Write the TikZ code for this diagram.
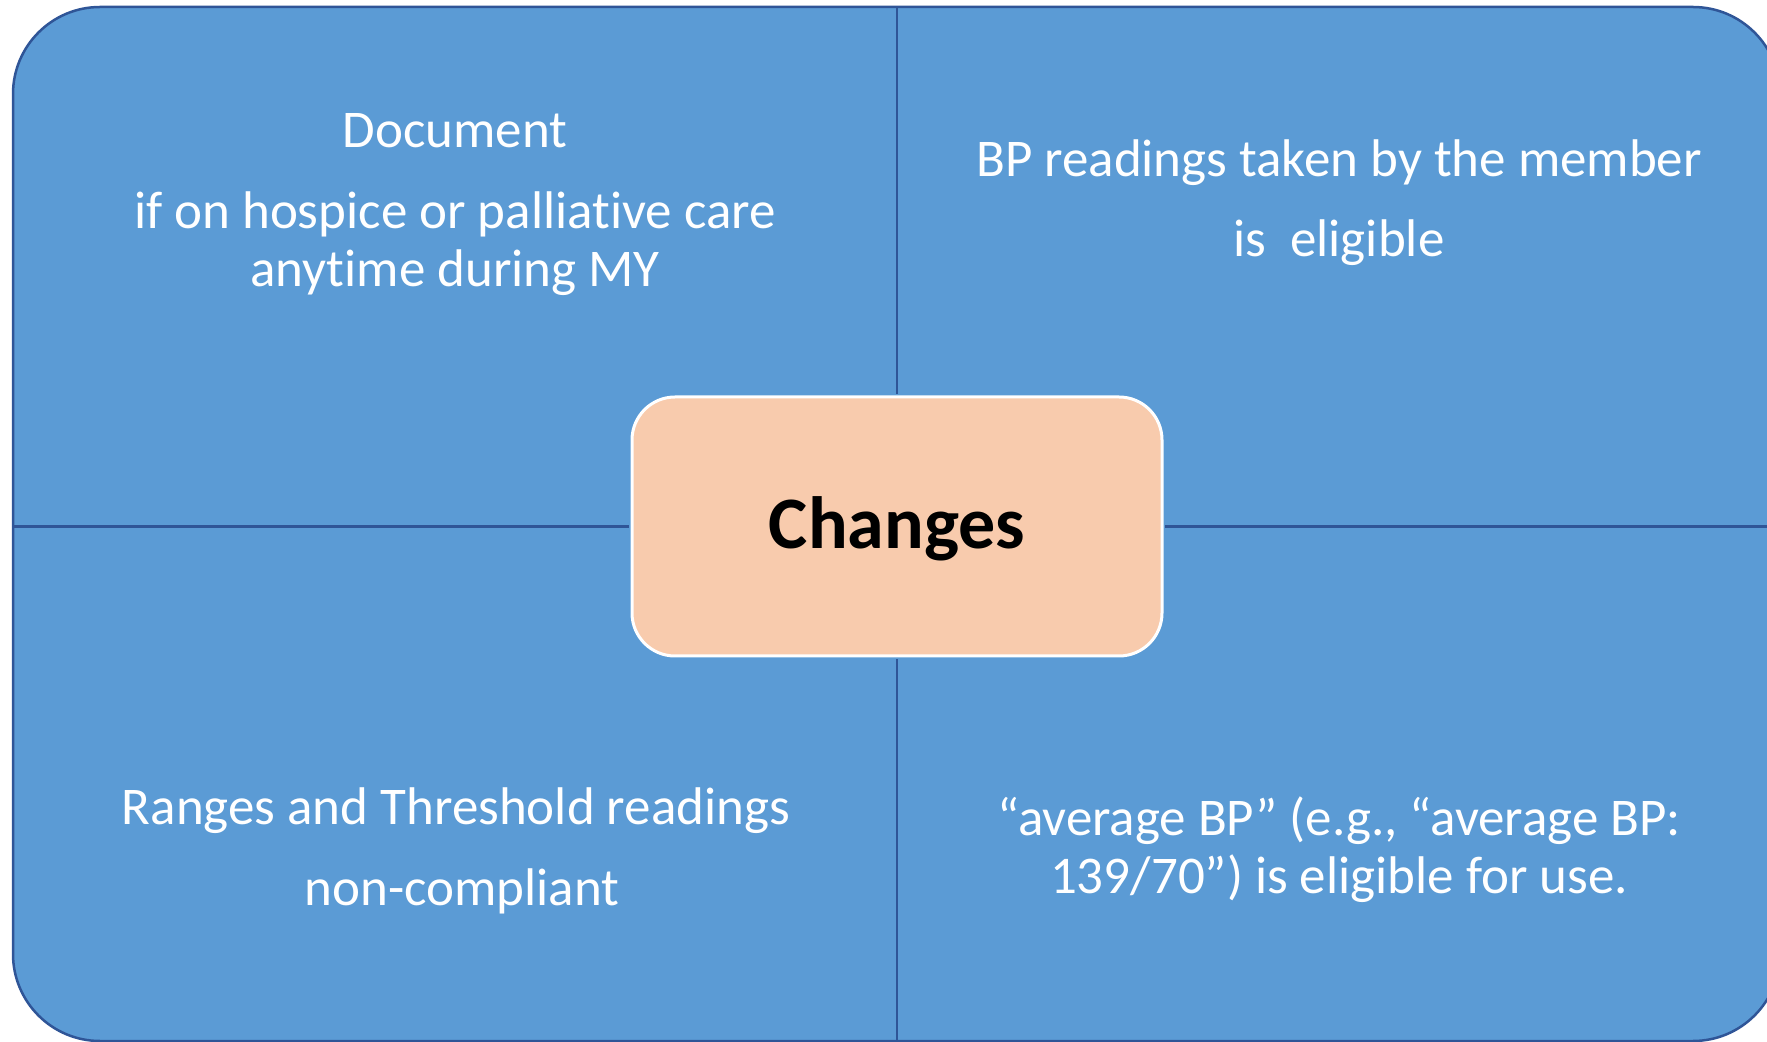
\documentclass[tikz,border=0pt]{standalone}
\usepackage{fontspec}
\setmainfont{Carlito}[Ligatures=NoCommon]
\usepackage{xcolor}
\usepackage{tikz}

\definecolor{quadblue}{HTML}{5B9BD5}
\definecolor{quadline}{HTML}{2F5597}
\definecolor{centrefill}{HTML}{F8CBAD}

\tikzset{
  quadtext/.style={anchor=base, text=white, inner sep=0pt, font=\fontsize{26.5}{30}\selectfont},
  centrebox/.style={draw=white, line width=1.5pt, fill=centrefill, rounded corners=21.5pt, minimum width=265pt, minimum height=129.5pt},
  divider/.style={draw=quadline, line width=1.1pt}
}

\begin{document}
\begin{tikzpicture}[x=0.5pt, y=-0.5pt]
        \useasboundingbox (0, 0) rectangle (1767, 1042);
        \draw[fill=quadblue, draw=quadline, line width=1.25pt, rounded corners=43.5pt] (13, 7) rectangle (1780, 1041);
        
        \coordinate (topmid) at (897, 7);
        \coordinate (botmid) at (897, 1041);
        \coordinate (leftmid) at (13, 526.5);
        \coordinate (rightmid) at (1780, 526.5);
        
        \node[centrebox] (changes) at (897, 526.5) {};
        \node[anchor=base, inner sep=0pt, font=\bfseries\fontsize{37}{44}\selectfont] (changeslabel) at (897, 549) {Changes};
        
        % dividers
        \draw[divider, shorten >=0.75pt] (topmid) -- (changes.north);
        \draw[divider, shorten >=0.75pt] (botmid) -- (changes.south);
        \draw[divider, shorten >=0.75pt] (leftmid) -- (changes.west);
        \draw[divider, shorten >=0.75pt] (rightmid) -- (changes.east);
        
        \node[quadtext] (doc) at (455, 148) {Document};
        \node[quadtext] (hospiceA) at (455, 229) {if on hospice or palliative care};
        \node[quadtext] (hospiceB) at (455, 287) {anytime during MY};
        
        \node[quadtext] (memberA) at (1339, 177) {BP readings taken by the member};
        \node[quadtext] (memberB) at (1339, 257) {is\ \ eligible};
        
        \node[quadtext] (rangesA) at (456, 824) {Ranges and Threshold readings};
        \node[quadtext] (rangesB) at (462, 905) {non-compliant};
        
        \node[quadtext] (averageA) at (1339, 835) {“average BP” (e.g., “average BP:};
        \node[quadtext] (averageB) at (1339, 893) {139/70”) is eligible for use.};
    \end{tikzpicture}
\end{document}
